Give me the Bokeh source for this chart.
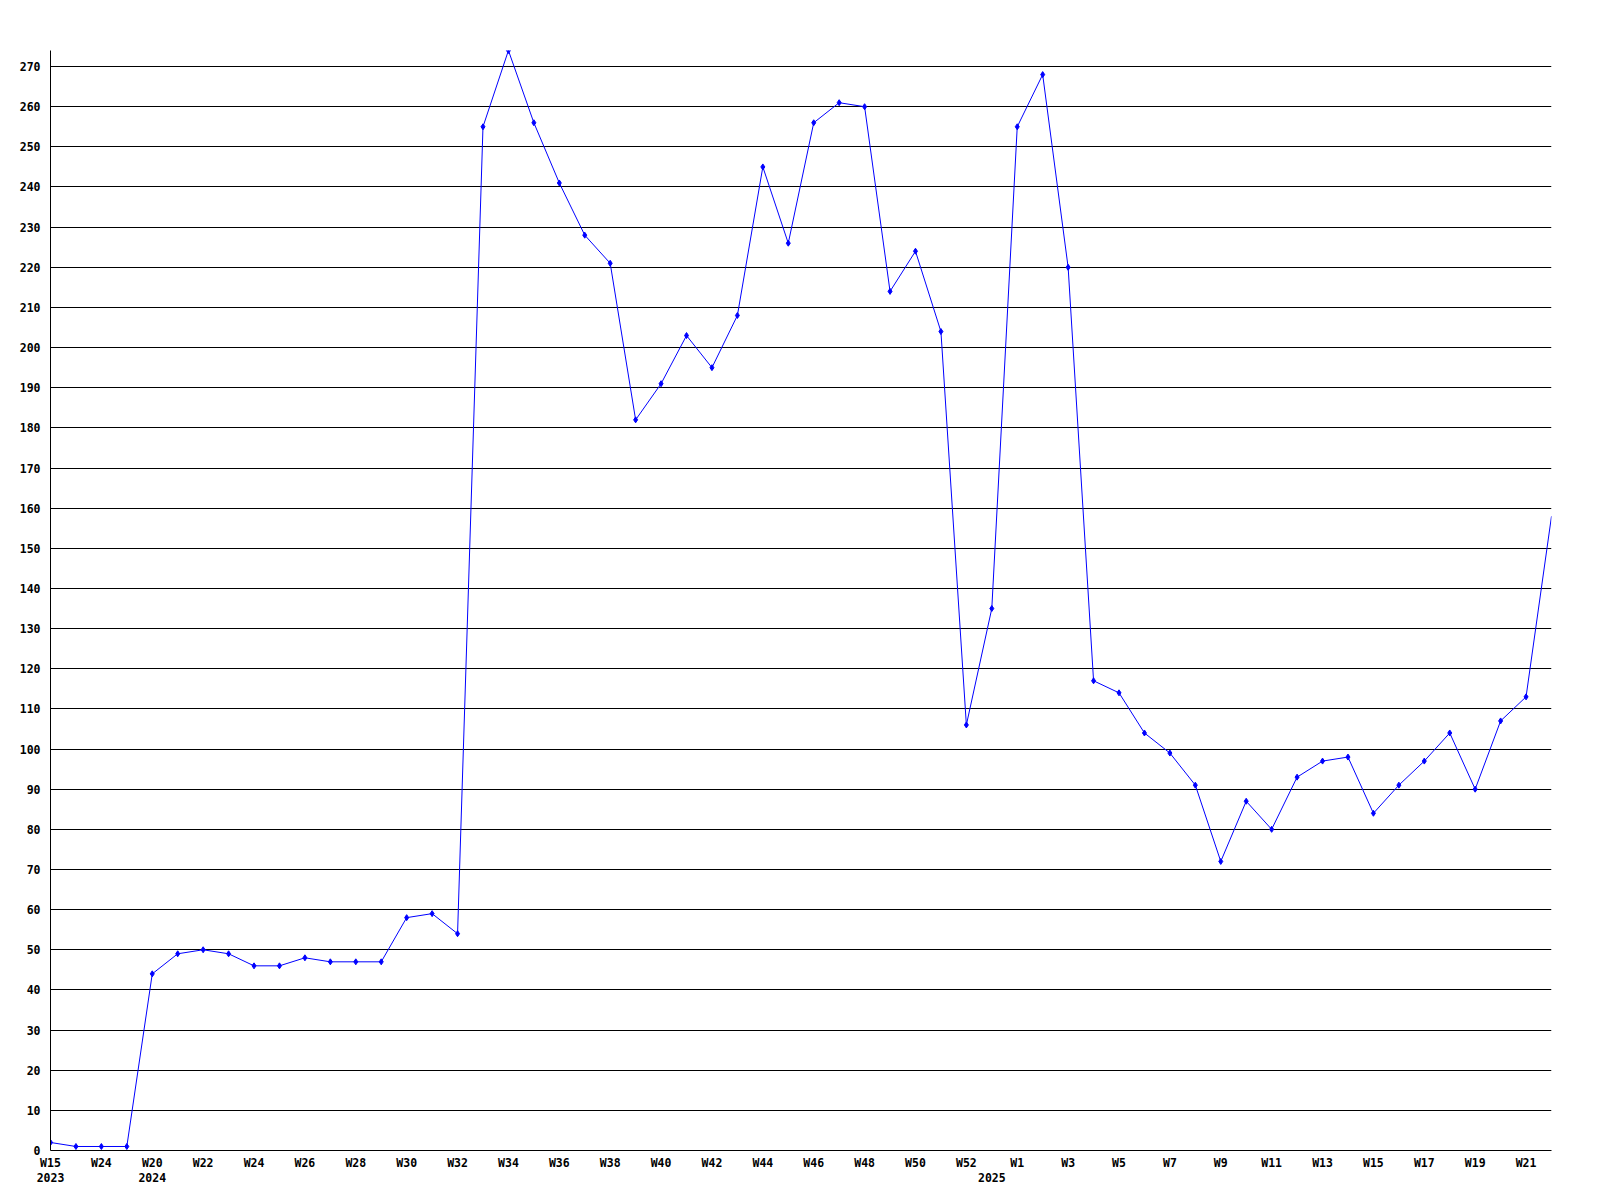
from bokeh.plotting import figure
from bokeh.models import Range1d, FixedTicker, LinearAxis
from bokeh.embed import file_html
from bokeh.resources import INLINE

# ---- data ----
weeks = ["W15", "W19", "W24", "W30",
         "W20", "W21", "W22", "W23", "W24", "W25", "W26", "W27", "W28", "W29",
         "W30", "W31", "W32", "W33", "W34", "W35", "W36", "W37", "W38", "W39",
         "W40", "W41", "W42", "W43", "W44", "W45", "W46", "W47", "W48", "W49",
         "W50", "W51", "W52", "W53",
         "W1", "W2", "W3", "W4", "W5", "W6", "W7", "W8", "W9", "W10", "W11",
         "W12", "W13", "W14", "W15", "W16", "W17", "W18", "W19", "W20", "W21", "W22"]
values = [2, 1, 1, 1,
          44, 49, 50, 49, 46, 46, 48, 47, 47, 47,
          58, 59, 54, 255, 274, 256, 241, 228, 221, 182,
          191, 203, 195, 208, 245, 226, 256, 261, 260, 214,
          224, 204, 106, 135,
          255, 268, 220, 117, 114, 104, 99, 91, 72, 87, 80,
          93, 97, 98, 84, 91, 97, 104, 90, 107, 113, 158]
year_labels = {0: "2023", 4: "2024", 37: "2025"}
y_ticks = list(range(0, 280, 10))

x = list(range(len(values)))

FONT = "DejaVu Sans Mono"
FS = "11.5px"

p = figure(frame_width=1501, frame_height=1100,
           min_border_left=50, min_border_top=50, min_border_right=41, min_border_bottom=45,
           x_range=Range1d(0, len(values) - 1), y_range=Range1d(0, max(values)),
           output_backend="svg", toolbar_location=None,
           background_fill_color="white", border_fill_color="white")
p.outline_line_color = None

# y axis
p.yaxis.ticker = FixedTicker(ticks=y_ticks)
p.yaxis.major_tick_out = 0
p.yaxis.major_tick_in = 0
p.yaxis.minor_tick_line_color = None
p.yaxis.major_label_standoff = 10
p.yaxis.axis_line_color = "black"
p.yaxis.major_label_text_font = FONT
p.yaxis.major_label_text_font_style = "bold"
p.yaxis.major_label_text_font_size = FS
p.yaxis.major_label_text_color = "black"

# x axis (weeks)
even = list(range(0, len(values), 2))
p.xaxis.ticker = FixedTicker(ticks=even)
p.xaxis.major_label_overrides = {i: weeks[i] for i in even}
p.xaxis.major_tick_out = 0
p.xaxis.major_tick_in = 0
p.xaxis.minor_tick_line_color = None
p.xaxis.major_label_standoff = 5
p.xaxis.axis_line_color = "black"
p.xaxis.major_label_text_font = FONT
p.xaxis.major_label_text_font_style = "bold"
p.xaxis.major_label_text_font_size = FS
p.xaxis.major_label_text_color = "black"

# second x axis (years)
yr = LinearAxis(ticker=FixedTicker(ticks=list(year_labels.keys())),
                major_label_overrides=year_labels)
yr.axis_line_color = None
yr.major_tick_line_color = None
yr.minor_tick_line_color = None
yr.major_tick_out = 0
yr.major_tick_in = 0
yr.major_label_standoff = 0
yr.major_label_text_font = FONT
yr.major_label_text_font_style = "bold"
yr.major_label_text_font_size = FS
yr.major_label_text_color = "black"
p.add_layout(yr, "below")

# grid
p.xgrid.grid_line_color = None
p.ygrid.ticker = FixedTicker(ticks=y_ticks)
p.ygrid.grid_line_color = "black"
p.ygrid.grid_line_alpha = 1.0
p.ygrid.grid_line_width = 1

p.line(x, values, line_color="#0000FF", line_width=1)
p.scatter(x[:-1], values[:-1], marker="diamond", size=6,
          fill_color="#0000FF", line_color="#0000FF")

open("out.html", "w").write(file_html(p, INLINE))
